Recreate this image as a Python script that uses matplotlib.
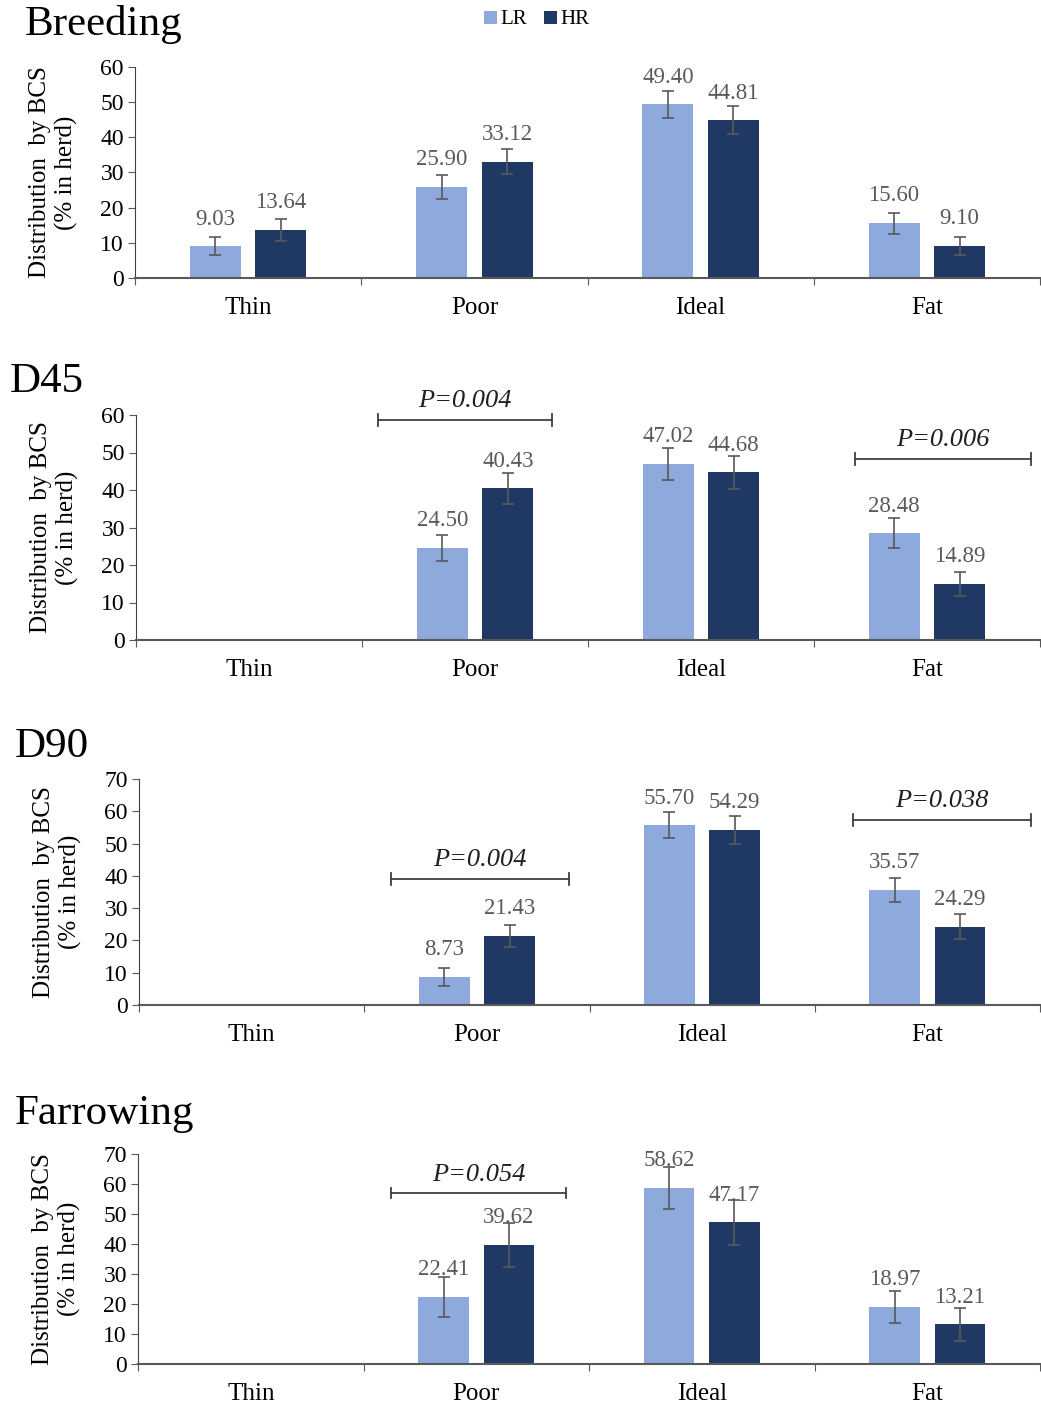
import matplotlib
matplotlib.use("Agg")
import matplotlib.pyplot as plt
import numpy as np

plt.rcParams['font.family'] = ['Liberation Serif', 'DejaVu Serif']

# data
categories = ['Thin', 'Poor', 'Ideal', 'Fat']
panels = ['Breeding', 'D45', 'D90', 'Farrowing']

lr_vals = [[9.03, 25.90, 49.40, 15.60],
           [np.nan, 24.50, 47.02, 28.48],
           [np.nan, 8.73, 55.70, 35.57],
           [np.nan, 22.41, 58.62, 18.97]]
hr_vals = [[13.64, 33.12, 44.81, 9.10],
           [np.nan, 40.43, 44.68, 14.89],
           [np.nan, 21.43, 54.29, 24.29],
           [np.nan, 39.62, 47.17, 13.21]]
lr_err = [[2.5, 3.4, 3.8, 3.0],
          [np.nan, 3.5, 4.3, 4.0],
          [np.nan, 2.8, 4.0, 3.8],
          [np.nan, 6.6, 7.0, 5.4]]
hr_err = [[3.0, 3.5, 4.0, 2.7],
          [np.nan, 4.2, 4.3, 3.2],
          [np.nan, 3.5, 4.3, 3.8],
          [np.nan, 7.4, 7.5, 5.4]]
y_max = [60, 60, 70, 70]

# significance brackets: (panel, category index, left, right, y, label)
brackets = [(1, 1, -0.43, 0.34, 58.7, 'P=0.004'),
            (1, 3, -0.32, 0.46, 48.3, 'P=0.006'),
            (2, 1, -0.38, 0.41, 39.0, 'P=0.004'),
            (2, 3, -0.33, 0.46, 57.3, 'P=0.038'),
            (3, 1, -0.38, 0.40, 57.0, 'P=0.054')]

LR_COLOR = '#8EA9DB'
HR_COLOR = '#203864'
GREY = '#595959'

W, H = 1041, 1410
fig = plt.figure(figsize=(W / 100, H / 100), dpi=100)

# axes boxes in pixels: left, y of zero line, y of top
boxes = [(135, 278, 67), (136, 640, 415), (139, 1005, 779), (138, 1364, 1154)]
title_pos = [(25, 24), (10, 382), (15, 747), (15, 1114)]

x = np.arange(len(categories)) + 0.5
off = 0.145
bw = 0.225

for i, name in enumerate(panels):
    l, b, t = boxes[i]
    ax = fig.add_axes([l / W, 1 - b / H, (1040 - l) / W, (b - t) / H])
    lr = np.array(lr_vals[i], dtype=float)
    hr = np.array(hr_vals[i], dtype=float)
    ax.bar(x - off, lr, bw, color=LR_COLOR, label='LR', zorder=2)
    ax.bar(x + off, hr, bw, color=HR_COLOR, label='HR', zorder=2)
    ax.errorbar(x - off, lr, yerr=lr_err[i], fmt='none', ecolor=GREY,
                elinewidth=1.2, capsize=4, capthick=1.2, zorder=3)
    ax.errorbar(x + off, hr, yerr=hr_err[i], fmt='none', ecolor=GREY,
                elinewidth=1.2, capsize=4, capthick=1.2, zorder=3)
    for xs, vals in ((x - off, lr), (x + off, hr)):
        for xx, v in zip(xs, vals):
            if np.isnan(v):
                continue
            ax.annotate(f'{v:.2f}', (xx, v), xytext=(0, 12), textcoords='offset points',
                        ha='center', va='bottom', fontsize=16.5, color=GREY)

    ax.set_xlim(0, 4)
    ax.set_ylim(0, y_max[i])
    ax.set_yticks(np.arange(0, y_max[i] + 1, 10))
    ax.set_xticks([0, 1, 2, 3, 4])
    ax.set_xticklabels([])
    ax.set_xticks(x, minor=True)
    ax.set_xticklabels(categories, minor=True, fontsize=18)
    ax.tick_params(axis='x', which='minor', length=0, pad=14)
    ax.tick_params(axis='x', which='major', length=5, direction='out', color=GREY)
    ax.tick_params(axis='y', labelsize=17, length=5, direction='out', color=GREY, pad=3)
    for s in ('top', 'right'):
        ax.spines[s].set_visible(False)
    ax.spines['left'].set_color('#404040')
    ax.spines['bottom'].set_color(GREY)
    ax.spines['bottom'].set_linewidth(1.5)
    ax.set_ylabel('Distribution  by BCS\n(% in herd)', fontsize=18, labelpad=16,
                  linespacing=1.2)

    fig.text(title_pos[i][0] / W, 1 - title_pos[i][1] / H, name, fontsize=31,
             ha='left', va='center')

    for p, c, dl, dr, yb, lab in brackets:
        if p != i:
            continue
        x0, x1 = x[c] + dl, x[c] + dr
        ax.plot([x0, x1], [yb, yb], color='#404040', lw=1.3, clip_on=False)
        tick = y_max[i] * 0.025
        ax.plot([x0, x0], [yb - tick, yb + tick], color='#404040', lw=1.3, clip_on=False)
        ax.plot([x1, x1], [yb - tick, yb + tick], color='#404040', lw=1.3, clip_on=False)
        ax.text((x0 + x1) / 2, yb + y_max[i] * 0.035, lab, ha='center', va='bottom',
                fontsize=19, style='italic', color='#202020')

    if i == 0:
        fig.legend(*ax.get_legend_handles_labels(), loc='center',
                   bbox_to_anchor=(537 / W, 1 - 20 / H), ncol=2, frameon=False,
                   fontsize=15, handlelength=0.6, handleheight=0.6,
                   handletextpad=0.2, columnspacing=0.8)

fig.savefig('out.png', dpi=100)
